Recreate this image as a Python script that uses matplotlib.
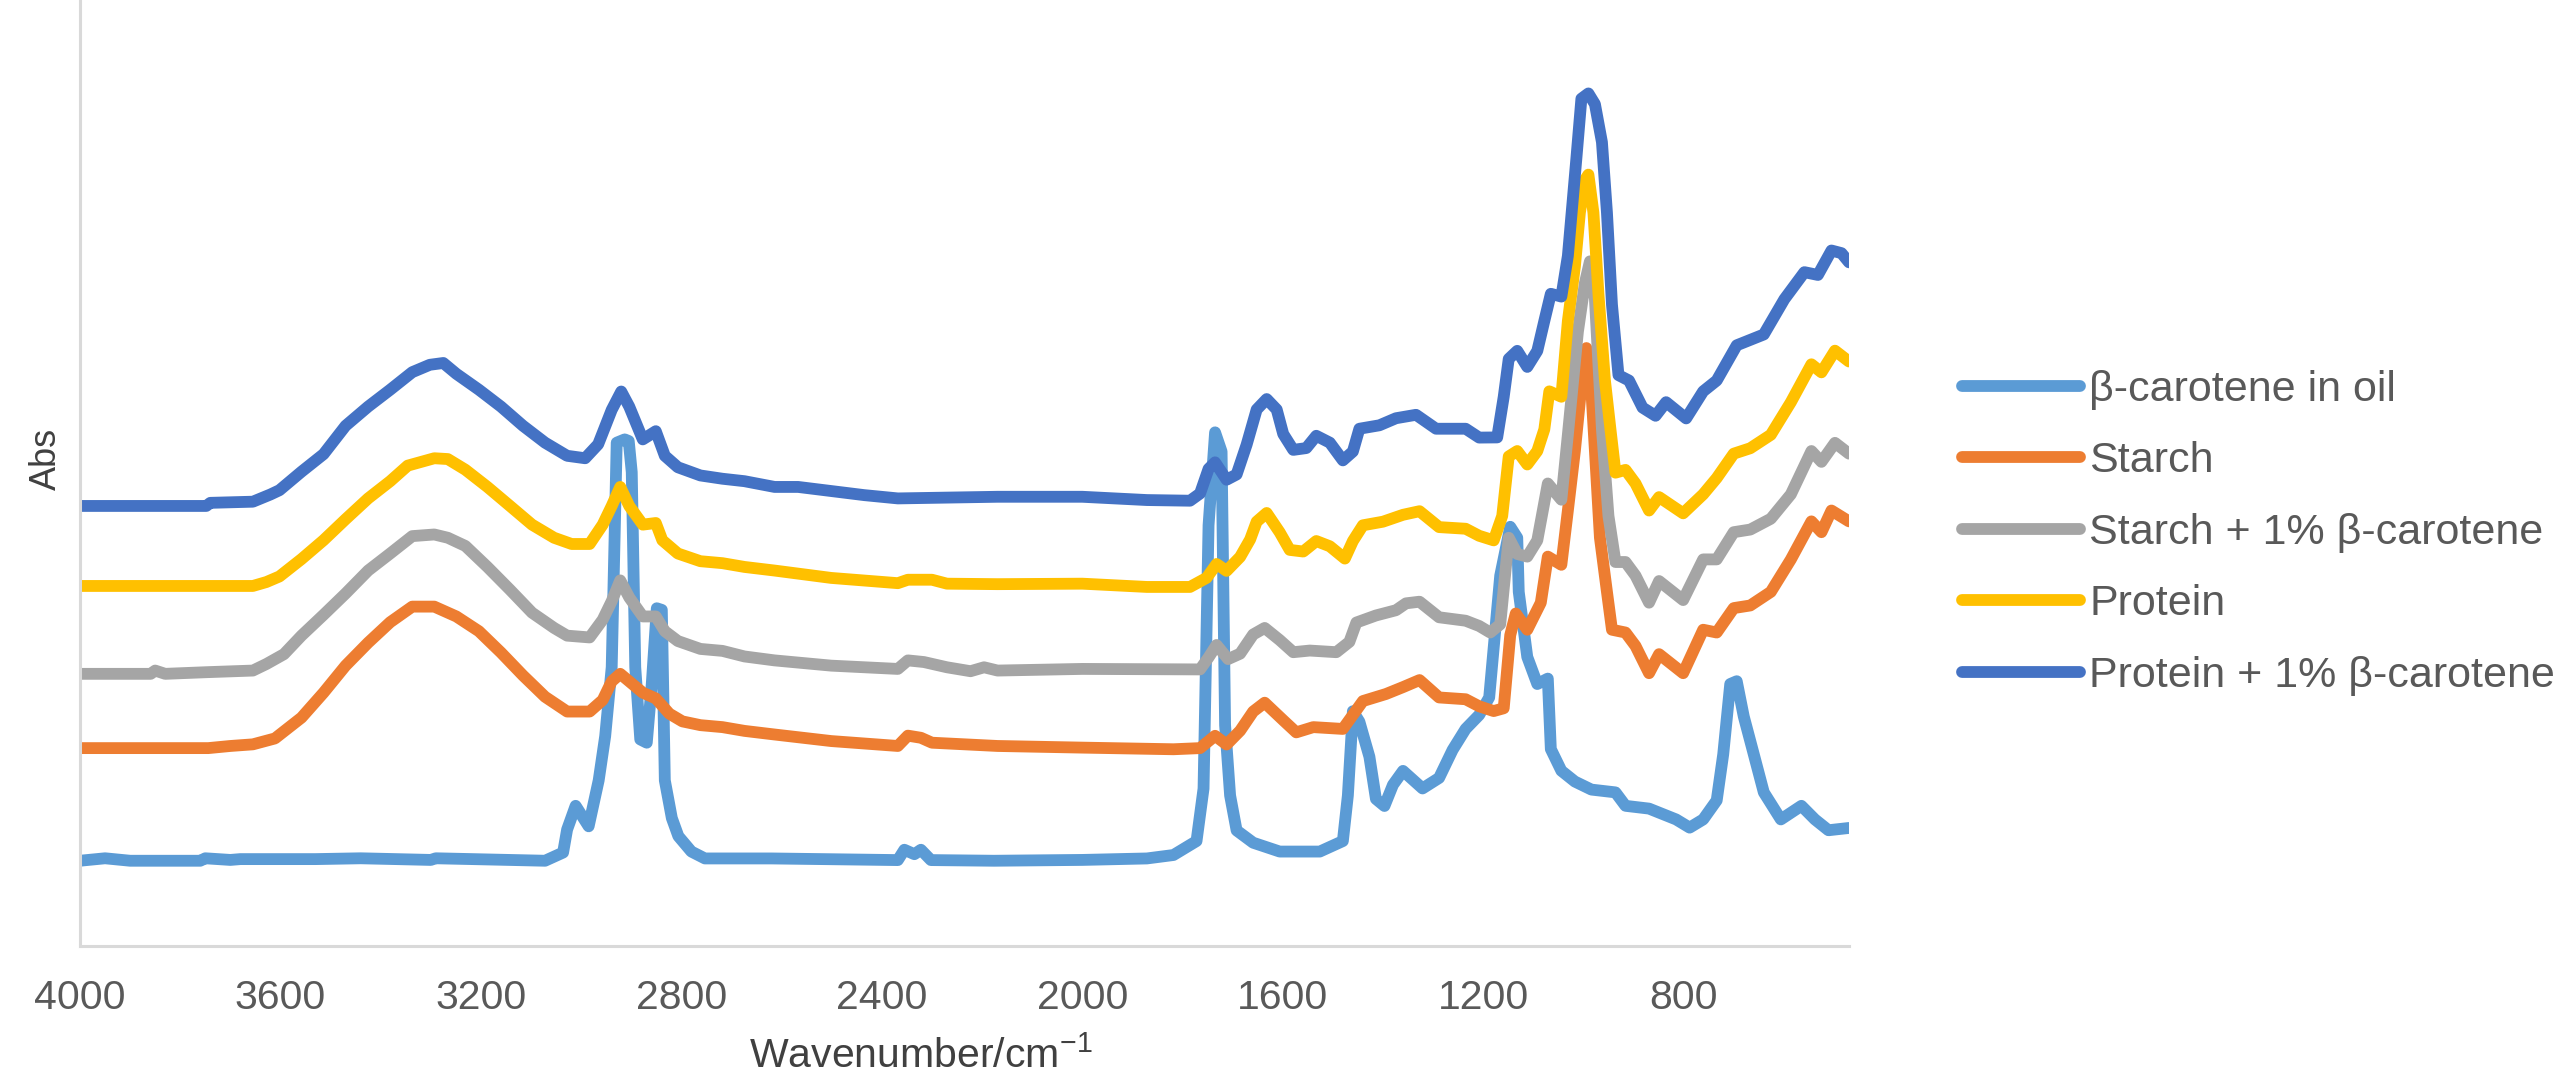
import matplotlib
matplotlib.use("Agg")
import matplotlib.pyplot as plt

plt.rcParams['font.family'] = ['Liberation Sans', 'DejaVu Sans']

# wavenumbers (cm-1) and absorbance (arbitrary, offset)
wn_oil = [4000, 3950, 3900, 3760, 3750, 3700, 3680, 3620, 3530, 3440, 3300, 3290, 3072, 3036, 3028,
          3011, 2985, 2965, 2952, 2939, 2929, 2913, 2905, 2899, 2892, 2882, 2869, 2859, 2849, 2839,
          2833, 2819, 2806, 2780, 2753, 2620, 2368, 2355, 2335, 2322, 2302, 2176, 2000, 1871, 1818,
          1772, 1758, 1748, 1735, 1722, 1715, 1705, 1692, 1659, 1606, 1526, 1480, 1470, 1460, 1447,
          1427, 1414, 1397, 1380, 1360, 1321, 1288, 1261, 1235, 1208, 1188, 1166, 1146, 1132, 1129,
          1112, 1092, 1071, 1065, 1044, 1017, 984, 936, 916, 869, 815, 788, 761, 734, 721, 707, 694,
          680, 660, 640, 606, 565, 538, 511, 470]
abs_oil = [52, 53.5, 52, 52, 53.5, 52.5, 53, 53, 53, 53.5, 52.5, 53.5, 52, 57, 71,
           85.5, 73, 101, 128, 170, 307, 309, 308, 289, 170, 126, 124, 160, 206, 205,
           101, 78, 67, 57.6, 53.4, 53.4, 52.4, 58.7, 56, 58.7, 52.4, 52, 52.5, 53.4, 55.5,
           64, 96, 256.6, 313.3, 301.6, 134.7, 91.8, 70.5, 63, 57.6, 57.6, 64, 91.8, 143.2, 136.8,
           115.4, 89.7, 85.4, 98.3, 106.8, 96.1, 102.5, 119.6, 132.4, 140.9, 151.6, 225.9, 255.7, 249, 216,
           176.3, 159.8, 163.1, 120.1, 106.9, 100.3, 95.4, 93.7, 85.5, 83.8, 77.2, 72.2, 77.2, 88.8, 116.9, 159.8, 161.5,
           140, 116.9, 93.7, 77.2, 85.5, 77.2, 70.6, 72]

wn_starch = [4000, 3744, 3700, 3655, 3611, 3558, 3514, 3470, 3425, 3381, 3337, 3293, 3249, 3204, 3160,
             3116, 3072, 3028, 2983, 2957, 2939, 2922, 2904, 2877, 2851, 2824, 2798, 2762, 2718, 2674,
             2614, 2501, 2368, 2348, 2322, 2300, 2169, 2000, 1818, 1765, 1735, 1712, 1685, 1659, 1636,
             1599, 1573, 1539, 1480, 1460, 1440, 1394, 1360, 1327, 1288, 1235, 1208, 1179, 1159, 1146,
             1135, 1112, 1085, 1071, 1044, 1031, 1017, 1004, 994, 984, 977, 967, 953, 943, 916, 896,
             869, 849, 801, 761, 734, 700, 667, 626, 586, 545, 525, 505, 470]
abs_starch = [120.7, 120.7, 122, 123, 126.6, 139.3, 154.5, 171, 185, 197.5, 207, 207, 201, 192, 179,
              165, 152, 143, 143, 150, 161.4, 166, 161.4, 154.5, 151, 141.7, 137, 134.7, 133.5, 131.2,
              129, 125, 122, 128.3, 127, 124, 122, 121, 120, 120.7, 128.2, 122.9, 131.3, 143, 148.4,
              137.7, 130.3, 133.5, 132.4, 140.9, 149.4, 153.7, 157.9, 162.2, 151.6, 150.5, 146.2, 143.3, 145, 189.6,
              202.8, 192.9, 209.4, 237.5, 232.5, 265.6, 301.9, 341.6, 364.7, 338.3, 301.9, 249, 216, 192.9, 191.2, 183,
              166.4, 178, 166.4, 192.9, 191.2, 206.1, 207.7, 216, 235.8, 259, 252.4, 265.6, 259]

wn_starch_bc = [4000, 3859, 3850, 3830, 3748, 3655, 3628, 3593, 3558, 3514, 3470, 3425, 3381, 3337, 3293,
                3266, 3231, 3187, 3142, 3098, 3054, 3028, 2983, 2957, 2939, 2922, 2904, 2877, 2851, 2833,
                2807, 2762, 2718, 2674, 2614, 2501, 2368, 2348, 2316, 2270, 2223, 2196, 2169, 2000, 1765,
                1748, 1732, 1709, 1685, 1659, 1636, 1606, 1579, 1546, 1493, 1467, 1453, 1414, 1374, 1354,
                1327, 1288, 1235, 1208, 1186, 1166, 1149, 1132, 1112, 1092, 1071, 1044, 1031, 1011, 997,
                987, 977, 963, 950, 936, 916, 896, 869, 849, 801, 761, 734, 700, 667, 626, 586, 545, 525,
                498, 470]
abs_starch_bc = [166, 166, 168, 166, 167, 168, 172, 178, 189.3, 202, 215, 229, 239.4, 250, 251,
                 249, 244, 231.2, 217.3, 203.3, 194, 189.3, 188.2, 199, 210.3, 223, 212.6, 201, 201, 192,
                 186, 181.2, 180, 176.6, 174.2, 171, 169, 174.2, 173.2, 170, 167.6, 170, 168, 169, 168.7,
                 176, 183.6, 175, 178.3, 190, 194, 186.6, 179.2, 180.2, 179.2, 185.5, 197.3, 201.6, 204.8, 209,
                 210, 200.5, 198.4, 195.2, 191.2, 196.2, 249, 239.1, 237.5, 247.4, 282.1, 272.2, 311.8, 374.6, 404.4,
                 417.6, 394.5, 315.1, 262.3, 234.2, 234.2, 225.9, 209.4, 222.6, 211, 235.8, 235.8, 252.4, 254, 260.6,
                 275.5, 301.9, 295.3, 306.9, 300.3]

wn_protein = [4000, 3655, 3628, 3602, 3558, 3514, 3470, 3425, 3381, 3346, 3293, 3266, 3231, 3187, 3142,
              3098, 3054, 3019, 2983, 2957, 2939, 2922, 2904, 2877, 2851, 2838, 2807, 2762, 2718, 2674,
              2614, 2501, 2368, 2348, 2300, 2270, 2169, 2000, 1871, 1785, 1752, 1732, 1712, 1685, 1665,
              1652, 1632, 1606, 1586, 1559, 1533, 1506, 1476, 1460, 1440, 1400, 1360, 1327, 1288, 1235,
              1208, 1179, 1162, 1149, 1132, 1112, 1092, 1078, 1068, 1044, 1031, 1017, 1007, 997, 990,
              980, 970, 957, 946, 936, 916, 896, 869, 849, 801, 761, 734, 700, 667, 626, 586, 545, 525,
              498, 470]
abs_protein = [219.6, 219.6, 222, 225.4, 236, 247.5, 260.3, 273, 283.5, 293, 297.5, 297, 290.5, 280, 268.4,
               257, 249, 245.2, 245.2, 257, 268.4, 280, 268.4, 257, 258, 247.5, 239.4, 234.7, 233.5, 231.2,
               229, 224.5, 221.3, 223.4, 223.4, 221, 220.7, 221, 219, 219, 224.5, 233, 228.8, 237.3, 248,
               258.8, 264.1, 252.3, 241.6, 240.6, 247, 243.8, 236.3, 247, 256.6, 258.8, 263, 265.2, 255.5, 254.5,
               250.2, 247.4, 262.3, 298.6, 301.9, 293.7, 301.9, 315.1, 338.3, 335, 381.2, 414.3, 447.3, 467.2, 470.5,
               447.3, 397.8, 344.9, 315.1, 288.7, 290.4, 282.1, 265.6, 273.8, 263.9, 275.5, 285.4, 300.3, 303.6, 311.8,
               331.7, 354.8, 349.9, 363.1, 356.5]

wn_protein_bc = [4000, 3748, 3740, 3655, 3620, 3602, 3558, 3514, 3470, 3425, 3381, 3337, 3302, 3275, 3249,
                 3204, 3160, 3116, 3072, 3028, 2992, 2966, 2939, 2920, 2904, 2877, 2851, 2833, 2807, 2762,
                 2718, 2674, 2614, 2567, 2435, 2368, 2169, 2000, 1871, 1785, 1765, 1748, 1735, 1712, 1692,
                 1672, 1652, 1632, 1612, 1599, 1579, 1553, 1533, 1506, 1480, 1460, 1447, 1407, 1374, 1334,
                 1294, 1235, 1208, 1172, 1159, 1149, 1132, 1112, 1092, 1078, 1065, 1044, 1031, 1014, 1004,
                 990, 977, 963, 953, 943, 930, 909, 882, 856, 835, 795, 761, 734, 694, 640, 599, 559, 532,
                 505, 485, 470]
abs_protein_bc = [268.4, 268.4, 270.3, 271, 275.4, 278, 289.3, 300, 317.3, 329, 339.3, 350, 354.5, 355.6, 349,
                  339.3, 329, 317.3, 307, 299, 297.5, 306, 327, 338.2, 329, 309, 314, 299, 292, 287,
                  285, 283.5, 280, 280, 275, 273, 274, 274, 272, 271.6, 276, 291, 295, 284.4, 287.6,
                  305.8, 327.2, 333.6, 327.2, 312.3, 302.6, 303.7, 311.2, 307, 296.2, 301.6, 315.5, 317.6, 321.9, 324,
                  315.5, 315.5, 310.1, 310.2, 335, 358.1, 363, 353.2, 363, 381.2, 397.8, 396.1, 420.9, 480.4, 516.8,
                  520, 513.5, 490.3, 447.3, 391.2, 348.2, 344.9, 328.4, 323.4, 331.7, 321.8, 338.3, 344.9, 366.4, 373,
                  394.5, 411, 409.3, 424.2, 422.6, 417]

labels = ['β-carotene in oil', 'Starch', 'Starch + 1% β-carotene', 'Protein', 'Protein + 1% β-carotene']
colors = ['#5B9BD5', '#ED7D31', '#A5A5A5', '#FFC000', '#4472C4']
xticks = [4000, 3600, 3200, 2800, 2400, 2000, 1600, 1200, 800]

series = [(wn_oil, abs_oil), (wn_starch, abs_starch), (wn_starch_bc, abs_starch_bc),
          (wn_protein, abs_protein), (wn_protein_bc, abs_protein_bc)]

fig = plt.figure(figsize=(25.72, 10.81), dpi=100)
ax = fig.add_axes([80 / 2572, 1 - 946 / 1081, (1849 - 80) / 2572, 946 / 1081])

for (x, y), lab, c in zip(series, labels, colors):
    ax.plot(x, y, color=c, lw=8.5, label=lab, solid_capstyle='round', solid_joinstyle='round')

ax.set_xlim(4000, 470)
ax.set_ylim(0, 577)
ax.set_xticks(xticks)
ax.set_xticklabels([str(t) for t in xticks])
ax.set_yticks([])
ax.tick_params(axis='x', length=0, pad=24, labelsize=29.5, labelcolor='#595959')

for s in ['top', 'right']:
    ax.spines[s].set_visible(False)
for s in ['left', 'bottom']:
    ax.spines[s].set_color('#D9D9D9')
    ax.spines[s].set_linewidth(2.2)

fig.text(921 / 2572, 1 - 1056 / 1081, 'Wavenumber/cm$^{\\mathregular{-1}}$',
         ha='center', va='center', fontsize=29.5, color='#404040')
fig.text(46 / 2572, 1 - 459 / 1081, 'Abs', rotation=90, ha='center', va='center',
         fontsize=26, color='#404040')

fig.legend(loc='upper left', bbox_to_anchor=(1962 / 2572, 1 - 370 / 1081), frameon=False,
           fontsize=31, labelcolor='#595959', handlelength=2.75, handletextpad=0.2,
           labelspacing=0.73, borderpad=0, borderaxespad=0)

fig.savefig('out.png', dpi=100)
